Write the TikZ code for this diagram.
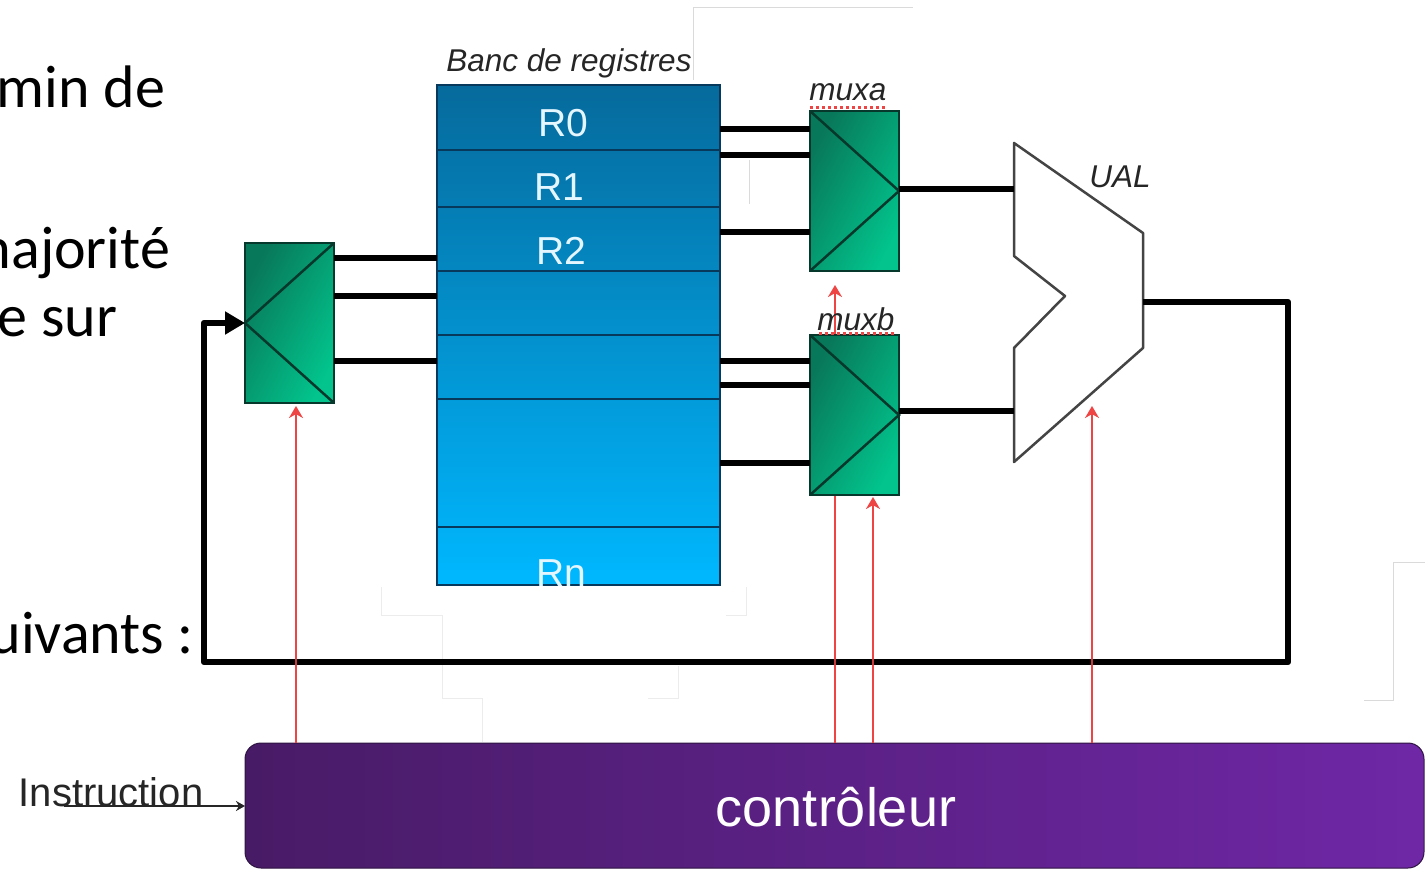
\documentclass[tikz,border=0pt]{standalone}
\usepackage{fontspec}
\setmainfont{Liberation Sans}
\newfontfamily\slidefont{Carlito}
\usetikzlibrary{arrows.meta,calc}
\definecolor{regdark}{HTML}{066A9C}
\definecolor{reglight}{HTML}{00B8FF}
\definecolor{regline}{HTML}{07395C}
\definecolor{regtext}{HTML}{E4F6FF}
\definecolor{muxdark}{HTML}{08785A}
\definecolor{muxlight}{HTML}{02C48C}
\definecolor{muxline}{HTML}{06382C}
\definecolor{ctrlleft}{HTML}{481B66}
\definecolor{ctrlright}{HTML}{6F27A6}
\definecolor{ctrlline}{HTML}{2E1442}
\definecolor{ctrlred}{HTML}{EE4444}
\definecolor{ghost}{HTML}{DADADA}
\definecolor{ualline}{HTML}{444444}
\tikzset{
  every node/.style={outer sep=0pt},
  bankbox/.style={draw=regline,line width=2.5pt,rectangle,inner sep=0pt,minimum width=283pt,top color=regdark,bottom color=reglight,minimum height=500pt},
  regrow/.style={draw=regline,line width=2.5pt,rectangle,inner sep=0pt,minimum width=283pt},
  reglabel/.style={text=regtext,inner sep=0pt,font=\fontsize{39}{44}\selectfont},
  muxbox/.style={draw=muxline,line width=2.5pt,rectangle,inner sep=0pt,minimum width=89pt,minimum height=160pt,top color=muxdark,bottom color=muxlight,shading angle=62},
  muxtri/.style={draw=muxline,line width=2.5pt},
  bus/.style={draw=black,line width=6pt},
  fbbus/.style={draw=black,line width=6.5pt},
  ctrlwire/.style={draw=ctrlred,line width=2pt,-{Stealth[length=12pt,width=14pt]}},
  ghostline/.style={draw=ghost,line width=1pt},
  italiclabel/.style={inner sep=0pt,text=black!85,font=\fontsize{31.5}{36}\selectfont\itshape},
  slidetext/.style={inner sep=0pt,anchor=base east,text=black,font=\slidefont\fontsize{60}{66}\selectfont},
  spell/.style={draw=ctrlred,line width=3pt,dash pattern=on 3pt off 3pt},
}
\begin{document}
\begin{tikzpicture}[x=1pt,y=-1pt]
\useasboundingbox (0,0) rectangle (1425,869);
\clip (0,0) rectangle (1425,869);
\fill[white] (0,0) rectangle (1425,869);

% faint artefacts
\draw[ghostline] (693,80) -- (693,8) -- (913,8);
\draw[ghostline] (749,204) -- (749,160);
\draw[ghostline,draw=ghost!50] (381,587) -- (381,615) -- (442,615) -- (442,698) -- (482,698) -- (482,742);
\draw[ghostline,draw=ghost!50] (746,587) -- (746,615) -- (726,615);
\draw[ghostline,draw=ghost!50] (678,666) -- (678,698) -- (648,698);
\draw[ghostline] (1425,562) -- (1393,562) -- (1393,700) -- (1364,700);

% slide text
\node[slidetext] (t1) at (165,108) {min de};
\node[slidetext] (t2) at (170,269) {majorité};
\node[slidetext] (t3) at (117,336) {e sur};
\node[slidetext] (t4) at (194,653) {suivants :};

% register bank
\node[bankbox,anchor=north west] (bank) at (437,85) {};
\node[regrow,anchor=north west,minimum height=65pt] (r0) at (437,85) {};
\node[regrow,anchor=north west,minimum height=57pt] (r1) at (437,150) {};
\node[regrow,anchor=north west,minimum height=64pt] (r2) at (437,207) {};
\node[regrow,anchor=north west,minimum height=64pt] (r3) at (437,271) {};
\node[regrow,anchor=north west,minimum height=64pt] (r4) at (437,335) {};
\node[regrow,anchor=north west,minimum height=128pt] (r5) at (437,399) {};
\node[regrow,anchor=north west,minimum height=58pt] (r6) at (437,527) {};
\node[reglabel] (l0) at (563,123) {R0};
\node[reglabel] (l1) at (559,187) {R1};
\node[reglabel] (l2) at (561,251) {R2};
\node[reglabel] (ln) at (561,573) {Rn};
\node[italiclabel] (bk) at (569,63) {Banc de registres};

% controller
\node[draw=ctrlline,line width=1pt,rectangle,rounded corners=16pt,inner sep=0pt,
      left color=ctrlleft,right color=ctrlright,minimum width=1179pt,minimum height=125pt,
      anchor=north west] (ctrl) at (245,743) {};
\node[text=white,inner sep=0pt,font=\fontsize{54}{60}\selectfont] (ctrltxt) at (836,807) {contrôleur};

% ALU
\coordinate (u1) at (1014,143);
\coordinate (u2) at (1143,233);
\coordinate (uout) at (1143,302);
\coordinate (u3) at (1143,348);
\coordinate (u4) at (1014,462);
\coordinate (u5) at (1014,348);
\coordinate (u6) at (1065,296);
\coordinate (u7) at (1014,256);
\coordinate (uina) at (1014,189);
\coordinate (uinb) at (1014,411);
\coordinate (utip) at (1092,406);
\draw[ualline,line width=2.5pt,fill=white,line join=round] (u1) -- (u2) -- (u3) -- (u4) -- (u5) -- (u6) -- (u7) -- cycle;
\node[italiclabel] (ual) at (1120,177) {UAL};

% feedback bus
\coordinate (fb1) at (1288,302);
\coordinate (fb2) at (1288,662);
\coordinate (fb3) at (204,662);
\coordinate (fb4) at (204,323);

% control wires, under the multiplexers
\coordinate (tipin) at (296,406);
\coordinate (tipa) at (835,285);
\coordinate (tipb) at (873,497);
\draw[ctrlwire] (tipin |- ctrl.north) -- (tipin);
\draw[ctrlwire] (tipa |- ctrl.north) -- (tipa);
\draw[ctrlwire] (tipb |- ctrl.north) -- (tipb);
\draw[ctrlwire] (utip |- ctrl.north) -- (utip);

% multiplexers
\node[muxbox,anchor=north west] (mi) at (245,243) {};
\node[muxbox,anchor=north west] (ma) at (810,111) {};
\node[muxbox,anchor=north west] (mb) at (810,335) {};
\draw[muxtri] (mi.north east) -- (mi.west) -- (mi.south east);
\draw[muxtri] (ma.north west) -- (ma.east) -- (ma.south west);
\draw[muxtri] (mb.north west) -- (mb.east) -- (mb.south west);

% buses
\foreach \yy in {258,296,361} \draw[bus] (mi.east |- 0,\yy) -- (bank.west |- 0,\yy);
\foreach \yy in {129,155,232} \draw[bus] (bank.east |- 0,\yy) -- (ma.west |- 0,\yy);
\foreach \yy in {361,385,463} \draw[bus] (bank.east |- 0,\yy) -- (mb.west |- 0,\yy);
\draw[bus] (ma.east |- uina) -- (uina);
\draw[bus] (mb.east |- uinb) -- (uinb);
\draw[fbbus,line join=round,-{Triangle[length=20pt,width=22pt]}] (uout) -- (fb1) -- (fb2) -- (fb3) -- (fb4) -- (mi.west |- fb4);
% red wire crosses on top of the bus
\draw[draw=ctrlred!85!black,line width=2pt] (tipin |- 0,659) -- (tipin |- 0,665);
\draw[draw=ctrlred!85!black,line width=2pt] (tipa |- 0,659) -- (tipa |- 0,665);
\draw[draw=ctrlred!85!black,line width=2pt] (tipb |- 0,659) -- (tipb |- 0,665);
\draw[draw=ctrlred!85!black,line width=2pt] (utip |- 0,659) -- (utip |- 0,665);

% mux labels
\draw[spell] (810,108) -- (887,108);
\draw[spell] (819,333) -- (896,333);
\node[italiclabel] (la) at (848,92) {muxa};
\node[italiclabel] (lb) at (856,319) {muxb};

% instruction input
\node[inner sep=0pt,text=black!85,font=\fontsize{40}{44}\selectfont] (ins) at (111,792) {Instruction};
\coordinate (insstart) at (64,806);
\draw[draw=black!85,line width=1.5pt,-{Stealth[length=9pt,width=10pt]}] (insstart) -- (insstart -| ctrl.west);
\end{tikzpicture}
\end{document}
